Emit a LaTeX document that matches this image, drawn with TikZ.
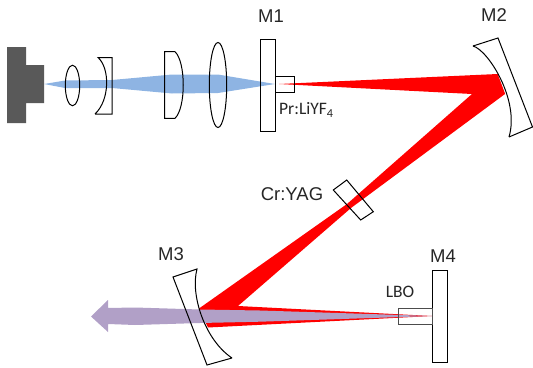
\documentclass[tikz,border=0pt]{standalone}
\usepackage{fontspec}
\setmainfont{Liberation Sans}
\newfontfamily\carl{Carlito}
\definecolor{beamblue}{HTML}{8EB4E3}
\definecolor{beampurple}{HTML}{B1A0C7}
\definecolor{srcgray}{HTML}{595959}
\tikzset{
 optic/.style={draw=black,line width=1pt,line join=miter},
 lbl/.style={inner sep=0pt,font=\fontsize{18.5}{22}\selectfont,text=black!85},
 clbl/.style={inner sep=0pt,font=\carl\fontsize{17.5}{20}\selectfont,text=black!85},
}
\begin{document}
\begin{tikzpicture}[x=1pt,y=-1pt]
\useasboundingbox (0,0) rectangle (533,367);
% source
\fill[srcgray] (7,47) -- (26,47) -- (26,65) -- (44,65) -- (44,103) -- (26,103) -- (26,123) -- (7,123) -- cycle;
% mirror white fill
\fill[white] (173,277) -- (197,269) .. controls (190,295) and (205,340) .. (232,358) -- (207,365) -- cycle;
% blue pump
\fill[beamblue] (44,84) -- (65,80.5) -- (112,80) -- (172,74.5) -- (218,74.5) -- (275,84) -- (218,93) -- (172,93.5) -- (112,88) -- (65,88) -- cycle;
% red beam
\fill[red] (279,84) -- (497.5,74) -- (505,94) -- (472,94) -- cycle;
\fill[red] (497.5,74) -- (505,94) -- (351,208) -- (238,306) -- (432,316) -- (208,327.5) -- (199,308.5) -- (347,204) -- (472,94) -- cycle;
% purple
\fill[beampurple] (91,316.5) -- (108,300) -- (108,308) -- (135,307.5) -- (200,309.5) -- (260,310.5) -- (432,316) -- (260,321.7) -- (200,323) -- (135,325) -- (108,324) -- (108,332) -- cycle;
% optics
\draw[optic] (72.5,85.5) ellipse (7.2 and 20.3);
\draw[optic] (95,114) -- (112,114) -- (112,57.5) -- (98,57.5) .. controls (110,68) and (110,100) .. (95,114);
\draw[optic] (175,51.7) -- (164.7,51.7) -- (164.7,118.3) -- (175,118.3) .. controls (186,108) and (186,62) .. (175,51.7);
\draw[optic] (218,85) ellipse (8.7 and 42.5);
\draw[optic] (260,39.5) rectangle (275.3,131.7);
\draw[optic] (275.3,76) rectangle (294,92.7);
\draw[optic] (473,46) -- (498,38) -- (532.5,127) -- (509,137);
\draw[optic] (473,46) .. controls (488,50) and (520,100) .. (509,137);
\draw[optic] (333.3,190) -- (346.7,180) -- (373.3,211.7) -- (360.7,220) -- cycle;
\draw[optic] (232,358) -- (207,365) -- (173,277) -- (197,269) .. controls (190,295) and (205,340) .. (232,358);
\draw[optic] (432.3,270.7) rectangle (447.3,362.3);
\draw[draw=black!70,line width=1pt] (432.3,308) -- (398.3,308) -- (398.3,324.7) -- (432.3,324.7) -- cycle;
% labels
\node[lbl] (m1) at (271,16) {M1};
\node[lbl] (m2) at (494,15) {M2};
\node[lbl] (m3) at (171,254) {M3};
\node[lbl] (m4) at (443,256) {M4};
\node[lbl] (cr) at (292,194) {Cr:YAG};
\node[clbl] (lbo) at (400,292) {LBO};
\node[clbl,anchor=west] (pr) at (279,110) {Pr:LiYF\textsubscript{4}};
\end{tikzpicture}
\end{document}
